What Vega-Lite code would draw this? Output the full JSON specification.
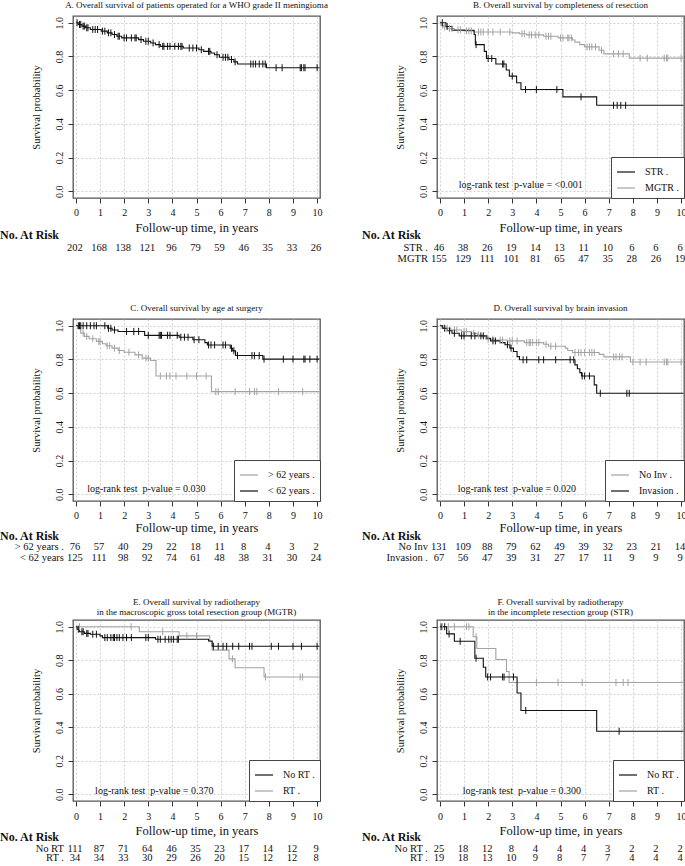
{
 "$schema": "https://vega.github.io/schema/vega-lite/v6.json",
 "padding": 0,
 "background": "white",
 "config": {
  "font": "Liberation Serif",
  "view": {"stroke": "#555", "strokeWidth": 1.3},
  "axis": {"domain": false, "grid": true, "gridColor": "#c4c4c4", "gridDash": [2, 2], "gridWidth": 0.8, "tickColor": "#333", "tickSize": 5, "tickCount": 20, "labelFont": "Liberation Serif", "labelFontSize": 10, "labelColor": "#111", "labelFlush": false, "labelOverlap": false, "titleFont": "Liberation Serif", "titleFontWeight": "normal", "titleColor": "#111"},
  "axisX": {"labelPadding": 4, "titleFontSize": 12.5, "titlePadding": 4, "labelAngle": 0, "format": "d"},
  "axisY": {"labelAngle": -90, "labelAlign": "center", "labelBaseline": "bottom", "labelPadding": 4, "titleFontSize": 10.5, "titlePadding": 13},
  "title": {"font": "Liberation Serif", "fontWeight": "normal", "fontSize": 9, "color": "#111"},
  "text": {"font": "Liberation Serif", "color": "#111"}
 },
 "datasets": {
  "km": [
   {"p":"A","g":"all","t":0,"s":1,"c":0},{"p":"A","g":"all","t":0.1,"s":0.99,"c":0},{"p":"A","g":"all","t":0.25,"s":0.98,"c":0},{"p":"A","g":"all","t":0.4,"s":0.97,"c":0},{"p":"A","g":"all","t":0.6,"s":0.96,"c":0},{"p":"A","g":"all","t":1.05,"s":0.95,"c":0},{"p":"A","g":"all","t":1.3,"s":0.94,"c":0},{"p":"A","g":"all","t":1.5,"s":0.93,"c":0},{"p":"A","g":"all","t":1.7,"s":0.92,"c":0},{"p":"A","g":"all","t":1.9,"s":0.91,"c":0},{"p":"A","g":"all","t":2.6,"s":0.9,"c":0},{"p":"A","g":"all","t":2.8,"s":0.89,"c":0},{"p":"A","g":"all","t":3.1,"s":0.88,"c":0},{"p":"A","g":"all","t":3.3,"s":0.87,"c":0},{"p":"A","g":"all","t":3.5,"s":0.86,"c":0},{"p":"A","g":"all","t":4.45,"s":0.85,"c":0},{"p":"A","g":"all","t":5.1,"s":0.84,"c":0},{"p":"A","g":"all","t":5.3,"s":0.83,"c":0},{"p":"A","g":"all","t":5.6,"s":0.82,"c":0},{"p":"A","g":"all","t":5.75,"s":0.81,"c":0},{"p":"A","g":"all","t":5.95,"s":0.795,"c":0},{"p":"A","g":"all","t":6.35,"s":0.782,"c":0},{"p":"A","g":"all","t":6.55,"s":0.768,"c":0},{"p":"A","g":"all","t":6.7,"s":0.755,"c":0},{"p":"A","g":"all","t":7.9,"s":0.733,"c":0},{"p":"A","g":"all","t":10.1,"s":0.733,"c":0},
   {"p":"A","g":"all","t":0.05,"s":1,"c":1},{"p":"A","g":"all","t":0.15,"s":0.99,"c":1},{"p":"A","g":"all","t":0.2,"s":0.99,"c":1},{"p":"A","g":"all","t":0.3,"s":0.98,"c":1},{"p":"A","g":"all","t":0.35,"s":0.98,"c":1},{"p":"A","g":"all","t":0.45,"s":0.97,"c":1},{"p":"A","g":"all","t":0.5,"s":0.97,"c":1},{"p":"A","g":"all","t":0.7,"s":0.96,"c":1},{"p":"A","g":"all","t":0.8,"s":0.96,"c":1},{"p":"A","g":"all","t":0.9,"s":0.96,"c":1},{"p":"A","g":"all","t":1.1,"s":0.95,"c":1},{"p":"A","g":"all","t":1.2,"s":0.95,"c":1},{"p":"A","g":"all","t":1.35,"s":0.94,"c":1},{"p":"A","g":"all","t":1.45,"s":0.94,"c":1},{"p":"A","g":"all","t":1.6,"s":0.93,"c":1},{"p":"A","g":"all","t":1.75,"s":0.92,"c":1},{"p":"A","g":"all","t":1.8,"s":0.92,"c":1},{"p":"A","g":"all","t":2.0,"s":0.91,"c":1},{"p":"A","g":"all","t":2.1,"s":0.91,"c":1},{"p":"A","g":"all","t":2.3,"s":0.91,"c":1},{"p":"A","g":"all","t":2.45,"s":0.91,"c":1},{"p":"A","g":"all","t":2.5,"s":0.91,"c":1},{"p":"A","g":"all","t":2.7,"s":0.9,"c":1},{"p":"A","g":"all","t":2.9,"s":0.89,"c":1},{"p":"A","g":"all","t":3.0,"s":0.89,"c":1},{"p":"A","g":"all","t":3.2,"s":0.88,"c":1},{"p":"A","g":"all","t":3.45,"s":0.87,"c":1},{"p":"A","g":"all","t":3.6,"s":0.86,"c":1},{"p":"A","g":"all","t":3.65,"s":0.86,"c":1},{"p":"A","g":"all","t":3.8,"s":0.86,"c":1},{"p":"A","g":"all","t":3.9,"s":0.86,"c":1},{"p":"A","g":"all","t":4.1,"s":0.86,"c":1},{"p":"A","g":"all","t":4.25,"s":0.86,"c":1},{"p":"A","g":"all","t":4.35,"s":0.86,"c":1},{"p":"A","g":"all","t":4.4,"s":0.86,"c":1},{"p":"A","g":"all","t":4.7,"s":0.85,"c":1},{"p":"A","g":"all","t":4.85,"s":0.85,"c":1},{"p":"A","g":"all","t":5.0,"s":0.85,"c":1},{"p":"A","g":"all","t":5.2,"s":0.84,"c":1},{"p":"A","g":"all","t":5.5,"s":0.83,"c":1},{"p":"A","g":"all","t":5.55,"s":0.83,"c":1},{"p":"A","g":"all","t":5.85,"s":0.81,"c":1},{"p":"A","g":"all","t":6.1,"s":0.795,"c":1},{"p":"A","g":"all","t":6.2,"s":0.795,"c":1},{"p":"A","g":"all","t":6.3,"s":0.795,"c":1},{"p":"A","g":"all","t":6.45,"s":0.782,"c":1},{"p":"A","g":"all","t":6.6,"s":0.768,"c":1},{"p":"A","g":"all","t":7.25,"s":0.755,"c":1},{"p":"A","g":"all","t":7.35,"s":0.755,"c":1},{"p":"A","g":"all","t":7.45,"s":0.755,"c":1},{"p":"A","g":"all","t":7.6,"s":0.755,"c":1},{"p":"A","g":"all","t":7.75,"s":0.755,"c":1},{"p":"A","g":"all","t":7.85,"s":0.755,"c":1},{"p":"A","g":"all","t":8.3,"s":0.733,"c":1},{"p":"A","g":"all","t":8.55,"s":0.733,"c":1},{"p":"A","g":"all","t":9.3,"s":0.733,"c":1},{"p":"A","g":"all","t":9.35,"s":0.733,"c":1},{"p":"A","g":"all","t":9.45,"s":0.733,"c":1},{"p":"A","g":"all","t":9.5,"s":0.733,"c":1},{"p":"A","g":"all","t":10.0,"s":0.733,"c":1},

   {"p":"B","g":"MGTR .","t":0,"s":1,"c":0},{"p":"B","g":"MGTR .","t":0.05,"s":0.985,"c":0},{"p":"B","g":"MGTR .","t":0.15,"s":0.975,"c":0},{"p":"B","g":"MGTR .","t":0.3,"s":0.965,"c":0},{"p":"B","g":"MGTR .","t":0.6,"s":0.958,"c":0},{"p":"B","g":"MGTR .","t":1.0,"s":0.952,"c":0},{"p":"B","g":"MGTR .","t":1.4,"s":0.945,"c":0},{"p":"B","g":"MGTR .","t":3.0,"s":0.94,"c":0},{"p":"B","g":"MGTR .","t":3.3,"s":0.935,"c":0},{"p":"B","g":"MGTR .","t":3.6,"s":0.928,"c":0},{"p":"B","g":"MGTR .","t":4.3,"s":0.92,"c":0},{"p":"B","g":"MGTR .","t":4.9,"s":0.91,"c":0},{"p":"B","g":"MGTR .","t":5.5,"s":0.898,"c":0},{"p":"B","g":"MGTR .","t":5.6,"s":0.885,"c":0},{"p":"B","g":"MGTR .","t":5.8,"s":0.87,"c":0},{"p":"B","g":"MGTR .","t":6.0,"s":0.857,"c":0},{"p":"B","g":"MGTR .","t":6.6,"s":0.837,"c":0},{"p":"B","g":"MGTR .","t":6.8,"s":0.815,"c":0},{"p":"B","g":"MGTR .","t":7.85,"s":0.79,"c":0},{"p":"B","g":"MGTR .","t":10.1,"s":0.79,"c":0},
   {"p":"B","g":"MGTR .","t":0.1,"s":0.985,"c":1},{"p":"B","g":"MGTR .","t":0.2,"s":0.975,"c":1},{"p":"B","g":"MGTR .","t":0.4,"s":0.965,"c":1},{"p":"B","g":"MGTR .","t":0.5,"s":0.965,"c":1},{"p":"B","g":"MGTR .","t":0.75,"s":0.958,"c":1},{"p":"B","g":"MGTR .","t":0.85,"s":0.958,"c":1},{"p":"B","g":"MGTR .","t":1.1,"s":0.952,"c":1},{"p":"B","g":"MGTR .","t":1.2,"s":0.952,"c":1},{"p":"B","g":"MGTR .","t":1.3,"s":0.952,"c":1},{"p":"B","g":"MGTR .","t":1.6,"s":0.945,"c":1},{"p":"B","g":"MGTR .","t":1.7,"s":0.945,"c":1},{"p":"B","g":"MGTR .","t":1.8,"s":0.945,"c":1},{"p":"B","g":"MGTR .","t":2.0,"s":0.945,"c":1},{"p":"B","g":"MGTR .","t":2.2,"s":0.945,"c":1},{"p":"B","g":"MGTR .","t":2.5,"s":0.945,"c":1},{"p":"B","g":"MGTR .","t":2.9,"s":0.945,"c":1},{"p":"B","g":"MGTR .","t":3.4,"s":0.935,"c":1},{"p":"B","g":"MGTR .","t":3.5,"s":0.935,"c":1},{"p":"B","g":"MGTR .","t":3.7,"s":0.928,"c":1},{"p":"B","g":"MGTR .","t":3.8,"s":0.928,"c":1},{"p":"B","g":"MGTR .","t":3.95,"s":0.928,"c":1},{"p":"B","g":"MGTR .","t":4.1,"s":0.928,"c":1},{"p":"B","g":"MGTR .","t":4.4,"s":0.92,"c":1},{"p":"B","g":"MGTR .","t":4.5,"s":0.92,"c":1},{"p":"B","g":"MGTR .","t":4.6,"s":0.92,"c":1},{"p":"B","g":"MGTR .","t":5.0,"s":0.91,"c":1},{"p":"B","g":"MGTR .","t":5.1,"s":0.91,"c":1},{"p":"B","g":"MGTR .","t":5.3,"s":0.91,"c":1},{"p":"B","g":"MGTR .","t":5.35,"s":0.91,"c":1},{"p":"B","g":"MGTR .","t":5.45,"s":0.91,"c":1},{"p":"B","g":"MGTR .","t":6.1,"s":0.857,"c":1},{"p":"B","g":"MGTR .","t":6.2,"s":0.857,"c":1},{"p":"B","g":"MGTR .","t":6.3,"s":0.857,"c":1},{"p":"B","g":"MGTR .","t":6.45,"s":0.857,"c":1},{"p":"B","g":"MGTR .","t":6.7,"s":0.837,"c":1},{"p":"B","g":"MGTR .","t":7.2,"s":0.815,"c":1},{"p":"B","g":"MGTR .","t":7.4,"s":0.815,"c":1},{"p":"B","g":"MGTR .","t":7.6,"s":0.815,"c":1},{"p":"B","g":"MGTR .","t":8.3,"s":0.79,"c":1},{"p":"B","g":"MGTR .","t":8.6,"s":0.79,"c":1},{"p":"B","g":"MGTR .","t":9.3,"s":0.79,"c":1},{"p":"B","g":"MGTR .","t":9.4,"s":0.79,"c":1},{"p":"B","g":"MGTR .","t":9.45,"s":0.79,"c":1},{"p":"B","g":"MGTR .","t":10.0,"s":0.79,"c":1},
   {"p":"B","g":"STR .","t":0,"s":1,"c":0},{"p":"B","g":"STR .","t":0.25,"s":0.978,"c":0},{"p":"B","g":"STR .","t":0.5,"s":0.955,"c":0},{"p":"B","g":"STR .","t":1.42,"s":0.93,"c":0},{"p":"B","g":"STR .","t":1.47,"s":0.87,"c":0},{"p":"B","g":"STR .","t":1.84,"s":0.83,"c":0},{"p":"B","g":"STR .","t":1.93,"s":0.788,"c":0},{"p":"B","g":"STR .","t":2.32,"s":0.755,"c":0},{"p":"B","g":"STR .","t":2.75,"s":0.72,"c":0},{"p":"B","g":"STR .","t":2.88,"s":0.683,"c":0},{"p":"B","g":"STR .","t":3.18,"s":0.644,"c":0},{"p":"B","g":"STR .","t":3.36,"s":0.604,"c":0},{"p":"B","g":"STR .","t":5.1,"s":0.56,"c":0},{"p":"B","g":"STR .","t":6.5,"s":0.51,"c":0},{"p":"B","g":"STR .","t":10.1,"s":0.51,"c":0},
   {"p":"B","g":"STR .","t":0.1,"s":1,"c":1},{"p":"B","g":"STR .","t":0.3,"s":0.978,"c":1},{"p":"B","g":"STR .","t":1.5,"s":0.87,"c":1},{"p":"B","g":"STR .","t":2.0,"s":0.788,"c":1},{"p":"B","g":"STR .","t":2.15,"s":0.788,"c":1},{"p":"B","g":"STR .","t":2.6,"s":0.755,"c":1},{"p":"B","g":"STR .","t":2.65,"s":0.755,"c":1},{"p":"B","g":"STR .","t":3.0,"s":0.683,"c":1},{"p":"B","g":"STR .","t":3.55,"s":0.604,"c":1},{"p":"B","g":"STR .","t":4.0,"s":0.604,"c":1},{"p":"B","g":"STR .","t":4.85,"s":0.604,"c":1},{"p":"B","g":"STR .","t":5.85,"s":0.56,"c":1},{"p":"B","g":"STR .","t":7.2,"s":0.51,"c":1},{"p":"B","g":"STR .","t":7.35,"s":0.51,"c":1},{"p":"B","g":"STR .","t":7.5,"s":0.51,"c":1},{"p":"B","g":"STR .","t":7.7,"s":0.51,"c":1},

   {"p":"C","g":"> 62 years .","t":0,"s":1,"c":0},{"p":"C","g":"> 62 years .","t":0.08,"s":0.986,"c":0},{"p":"C","g":"> 62 years .","t":0.2,"s":0.956,"c":0},{"p":"C","g":"> 62 years .","t":0.35,"s":0.937,"c":0},{"p":"C","g":"> 62 years .","t":0.55,"s":0.923,"c":0},{"p":"C","g":"> 62 years .","t":0.85,"s":0.907,"c":0},{"p":"C","g":"> 62 years .","t":1.1,"s":0.893,"c":0},{"p":"C","g":"> 62 years .","t":1.25,"s":0.881,"c":0},{"p":"C","g":"> 62 years .","t":1.5,"s":0.867,"c":0},{"p":"C","g":"> 62 years .","t":1.75,"s":0.853,"c":0},{"p":"C","g":"> 62 years .","t":2.0,"s":0.843,"c":0},{"p":"C","g":"> 62 years .","t":2.45,"s":0.827,"c":0},{"p":"C","g":"> 62 years .","t":2.75,"s":0.808,"c":0},{"p":"C","g":"> 62 years .","t":3.1,"s":0.794,"c":0},{"p":"C","g":"> 62 years .","t":3.32,"s":0.702,"c":0},{"p":"C","g":"> 62 years .","t":5.62,"s":0.609,"c":0},{"p":"C","g":"> 62 years .","t":10.1,"s":0.609,"c":0},
   {"p":"C","g":"> 62 years .","t":0.3,"s":0.956,"c":1},{"p":"C","g":"> 62 years .","t":0.45,"s":0.937,"c":1},{"p":"C","g":"> 62 years .","t":0.7,"s":0.923,"c":1},{"p":"C","g":"> 62 years .","t":0.95,"s":0.907,"c":1},{"p":"C","g":"> 62 years .","t":1.0,"s":0.907,"c":1},{"p":"C","g":"> 62 years .","t":1.3,"s":0.881,"c":1},{"p":"C","g":"> 62 years .","t":1.4,"s":0.881,"c":1},{"p":"C","g":"> 62 years .","t":1.6,"s":0.867,"c":1},{"p":"C","g":"> 62 years .","t":1.8,"s":0.853,"c":1},{"p":"C","g":"> 62 years .","t":2.2,"s":0.843,"c":1},{"p":"C","g":"> 62 years .","t":2.6,"s":0.827,"c":1},{"p":"C","g":"> 62 years .","t":2.9,"s":0.808,"c":1},{"p":"C","g":"> 62 years .","t":3.0,"s":0.808,"c":1},{"p":"C","g":"> 62 years .","t":3.5,"s":0.702,"c":1},{"p":"C","g":"> 62 years .","t":3.75,"s":0.702,"c":1},{"p":"C","g":"> 62 years .","t":3.9,"s":0.702,"c":1},{"p":"C","g":"> 62 years .","t":4.15,"s":0.702,"c":1},{"p":"C","g":"> 62 years .","t":4.6,"s":0.702,"c":1},{"p":"C","g":"> 62 years .","t":5.0,"s":0.702,"c":1},{"p":"C","g":"> 62 years .","t":5.4,"s":0.702,"c":1},{"p":"C","g":"> 62 years .","t":5.8,"s":0.609,"c":1},{"p":"C","g":"> 62 years .","t":5.9,"s":0.609,"c":1},{"p":"C","g":"> 62 years .","t":6.6,"s":0.609,"c":1},{"p":"C","g":"> 62 years .","t":7.2,"s":0.609,"c":1},{"p":"C","g":"> 62 years .","t":7.4,"s":0.609,"c":1},{"p":"C","g":"> 62 years .","t":7.5,"s":0.609,"c":1},{"p":"C","g":"> 62 years .","t":8.4,"s":0.609,"c":1},{"p":"C","g":"> 62 years .","t":9.4,"s":0.609,"c":1},
   {"p":"C","g":"< 62 years .","t":0,"s":1,"c":0},{"p":"C","g":"< 62 years .","t":1.32,"s":0.985,"c":0},{"p":"C","g":"< 62 years .","t":1.5,"s":0.975,"c":0},{"p":"C","g":"< 62 years .","t":1.75,"s":0.966,"c":0},{"p":"C","g":"< 62 years .","t":2.85,"s":0.943,"c":0},{"p":"C","g":"< 62 years .","t":4.28,"s":0.932,"c":0},{"p":"C","g":"< 62 years .","t":4.85,"s":0.917,"c":0},{"p":"C","g":"< 62 years .","t":5.35,"s":0.9,"c":0},{"p":"C","g":"< 62 years .","t":5.45,"s":0.886,"c":0},{"p":"C","g":"< 62 years .","t":6.4,"s":0.866,"c":0},{"p":"C","g":"< 62 years .","t":6.5,"s":0.851,"c":0},{"p":"C","g":"< 62 years .","t":6.62,"s":0.823,"c":0},{"p":"C","g":"< 62 years .","t":7.75,"s":0.802,"c":0},{"p":"C","g":"< 62 years .","t":10.1,"s":0.802,"c":0},
   {"p":"C","g":"< 62 years .","t":0.1,"s":1,"c":1},{"p":"C","g":"< 62 years .","t":0.15,"s":1,"c":1},{"p":"C","g":"< 62 years .","t":0.2,"s":1,"c":1},{"p":"C","g":"< 62 years .","t":0.3,"s":1,"c":1},{"p":"C","g":"< 62 years .","t":0.45,"s":1,"c":1},{"p":"C","g":"< 62 years .","t":0.6,"s":1,"c":1},{"p":"C","g":"< 62 years .","t":0.75,"s":1,"c":1},{"p":"C","g":"< 62 years .","t":0.85,"s":1,"c":1},{"p":"C","g":"< 62 years .","t":1.2,"s":1,"c":1},{"p":"C","g":"< 62 years .","t":1.35,"s":0.985,"c":1},{"p":"C","g":"< 62 years .","t":1.45,"s":0.985,"c":1},{"p":"C","g":"< 62 years .","t":1.6,"s":0.975,"c":1},{"p":"C","g":"< 62 years .","t":2.1,"s":0.966,"c":1},{"p":"C","g":"< 62 years .","t":2.4,"s":0.966,"c":1},{"p":"C","g":"< 62 years .","t":2.6,"s":0.966,"c":1},{"p":"C","g":"< 62 years .","t":3.0,"s":0.943,"c":1},{"p":"C","g":"< 62 years .","t":3.45,"s":0.943,"c":1},{"p":"C","g":"< 62 years .","t":3.5,"s":0.943,"c":1},{"p":"C","g":"< 62 years .","t":3.55,"s":0.943,"c":1},{"p":"C","g":"< 62 years .","t":3.8,"s":0.943,"c":1},{"p":"C","g":"< 62 years .","t":3.9,"s":0.943,"c":1},{"p":"C","g":"< 62 years .","t":4.2,"s":0.943,"c":1},{"p":"C","g":"< 62 years .","t":4.35,"s":0.932,"c":1},{"p":"C","g":"< 62 years .","t":4.5,"s":0.932,"c":1},{"p":"C","g":"< 62 years .","t":4.65,"s":0.932,"c":1},{"p":"C","g":"< 62 years .","t":4.9,"s":0.917,"c":1},{"p":"C","g":"< 62 years .","t":5.1,"s":0.917,"c":1},{"p":"C","g":"< 62 years .","t":5.5,"s":0.886,"c":1},{"p":"C","g":"< 62 years .","t":5.6,"s":0.886,"c":1},{"p":"C","g":"< 62 years .","t":5.75,"s":0.886,"c":1},{"p":"C","g":"< 62 years .","t":6.1,"s":0.886,"c":1},{"p":"C","g":"< 62 years .","t":6.2,"s":0.886,"c":1},{"p":"C","g":"< 62 years .","t":6.45,"s":0.866,"c":1},{"p":"C","g":"< 62 years .","t":6.55,"s":0.851,"c":1},{"p":"C","g":"< 62 years .","t":6.7,"s":0.823,"c":1},{"p":"C","g":"< 62 years .","t":7.3,"s":0.823,"c":1},{"p":"C","g":"< 62 years .","t":7.4,"s":0.823,"c":1},{"p":"C","g":"< 62 years .","t":7.6,"s":0.823,"c":1},{"p":"C","g":"< 62 years .","t":7.8,"s":0.802,"c":1},{"p":"C","g":"< 62 years .","t":8.6,"s":0.802,"c":1},{"p":"C","g":"< 62 years .","t":9.0,"s":0.802,"c":1},{"p":"C","g":"< 62 years .","t":9.45,"s":0.802,"c":1},{"p":"C","g":"< 62 years .","t":9.5,"s":0.802,"c":1},{"p":"C","g":"< 62 years .","t":9.7,"s":0.802,"c":1},{"p":"C","g":"< 62 years .","t":10.0,"s":0.802,"c":1},

   {"p":"D","g":"No Inv .","t":0,"s":1,"c":0},{"p":"D","g":"No Inv .","t":0.15,"s":0.985,"c":0},{"p":"D","g":"No Inv .","t":0.45,"s":0.975,"c":0},{"p":"D","g":"No Inv .","t":0.9,"s":0.965,"c":0},{"p":"D","g":"No Inv .","t":1.3,"s":0.955,"c":0},{"p":"D","g":"No Inv .","t":1.55,"s":0.945,"c":0},{"p":"D","g":"No Inv .","t":1.75,"s":0.935,"c":0},{"p":"D","g":"No Inv .","t":1.9,"s":0.92,"c":0},{"p":"D","g":"No Inv .","t":2.3,"s":0.915,"c":0},{"p":"D","g":"No Inv .","t":2.8,"s":0.91,"c":0},{"p":"D","g":"No Inv .","t":3.5,"s":0.9,"c":0},{"p":"D","g":"No Inv .","t":4.3,"s":0.89,"c":0},{"p":"D","g":"No Inv .","t":4.5,"s":0.878,"c":0},{"p":"D","g":"No Inv .","t":5.2,"s":0.867,"c":0},{"p":"D","g":"No Inv .","t":5.3,"s":0.853,"c":0},{"p":"D","g":"No Inv .","t":5.5,"s":0.841,"c":0},{"p":"D","g":"No Inv .","t":6.6,"s":0.83,"c":0},{"p":"D","g":"No Inv .","t":6.8,"s":0.815,"c":0},{"p":"D","g":"No Inv .","t":7.9,"s":0.785,"c":0},{"p":"D","g":"No Inv .","t":10.1,"s":0.785,"c":0},
   {"p":"D","g":"No Inv .","t":0.3,"s":0.985,"c":1},{"p":"D","g":"No Inv .","t":0.6,"s":0.975,"c":1},{"p":"D","g":"No Inv .","t":0.7,"s":0.975,"c":1},{"p":"D","g":"No Inv .","t":1.0,"s":0.965,"c":1},{"p":"D","g":"No Inv .","t":1.1,"s":0.965,"c":1},{"p":"D","g":"No Inv .","t":1.4,"s":0.955,"c":1},{"p":"D","g":"No Inv .","t":1.6,"s":0.945,"c":1},{"p":"D","g":"No Inv .","t":2.0,"s":0.92,"c":1},{"p":"D","g":"No Inv .","t":2.2,"s":0.92,"c":1},{"p":"D","g":"No Inv .","t":2.5,"s":0.915,"c":1},{"p":"D","g":"No Inv .","t":2.6,"s":0.915,"c":1},{"p":"D","g":"No Inv .","t":2.9,"s":0.91,"c":1},{"p":"D","g":"No Inv .","t":3.0,"s":0.91,"c":1},{"p":"D","g":"No Inv .","t":3.2,"s":0.91,"c":1},{"p":"D","g":"No Inv .","t":3.6,"s":0.9,"c":1},{"p":"D","g":"No Inv .","t":3.7,"s":0.9,"c":1},{"p":"D","g":"No Inv .","t":3.75,"s":0.9,"c":1},{"p":"D","g":"No Inv .","t":3.85,"s":0.9,"c":1},{"p":"D","g":"No Inv .","t":4.0,"s":0.9,"c":1},{"p":"D","g":"No Inv .","t":4.1,"s":0.9,"c":1},{"p":"D","g":"No Inv .","t":4.4,"s":0.89,"c":1},{"p":"D","g":"No Inv .","t":4.6,"s":0.878,"c":1},{"p":"D","g":"No Inv .","t":4.8,"s":0.878,"c":1},{"p":"D","g":"No Inv .","t":5.6,"s":0.841,"c":1},{"p":"D","g":"No Inv .","t":5.75,"s":0.841,"c":1},{"p":"D","g":"No Inv .","t":5.85,"s":0.841,"c":1},{"p":"D","g":"No Inv .","t":6.0,"s":0.841,"c":1},{"p":"D","g":"No Inv .","t":6.2,"s":0.841,"c":1},{"p":"D","g":"No Inv .","t":6.3,"s":0.841,"c":1},{"p":"D","g":"No Inv .","t":6.4,"s":0.841,"c":1},{"p":"D","g":"No Inv .","t":7.2,"s":0.815,"c":1},{"p":"D","g":"No Inv .","t":7.3,"s":0.815,"c":1},{"p":"D","g":"No Inv .","t":7.45,"s":0.815,"c":1},{"p":"D","g":"No Inv .","t":7.55,"s":0.815,"c":1},{"p":"D","g":"No Inv .","t":8.0,"s":0.785,"c":1},{"p":"D","g":"No Inv .","t":8.3,"s":0.785,"c":1},{"p":"D","g":"No Inv .","t":8.55,"s":0.785,"c":1},{"p":"D","g":"No Inv .","t":9.3,"s":0.785,"c":1},{"p":"D","g":"No Inv .","t":9.4,"s":0.785,"c":1},{"p":"D","g":"No Inv .","t":9.45,"s":0.785,"c":1},{"p":"D","g":"No Inv .","t":10.0,"s":0.785,"c":1},
   {"p":"D","g":"Invasion .","t":0,"s":1,"c":0},{"p":"D","g":"Invasion .","t":0.1,"s":0.985,"c":0},{"p":"D","g":"Invasion .","t":0.3,"s":0.97,"c":0},{"p":"D","g":"Invasion .","t":0.5,"s":0.955,"c":0},{"p":"D","g":"Invasion .","t":0.8,"s":0.94,"c":0},{"p":"D","g":"Invasion .","t":1.95,"s":0.925,"c":0},{"p":"D","g":"Invasion .","t":2.1,"s":0.91,"c":0},{"p":"D","g":"Invasion .","t":2.5,"s":0.9,"c":0},{"p":"D","g":"Invasion .","t":2.7,"s":0.887,"c":0},{"p":"D","g":"Invasion .","t":2.9,"s":0.867,"c":0},{"p":"D","g":"Invasion .","t":3.05,"s":0.847,"c":0},{"p":"D","g":"Invasion .","t":3.2,"s":0.817,"c":0},{"p":"D","g":"Invasion .","t":3.3,"s":0.798,"c":0},{"p":"D","g":"Invasion .","t":5.6,"s":0.768,"c":0},{"p":"D","g":"Invasion .","t":5.7,"s":0.745,"c":0},{"p":"D","g":"Invasion .","t":5.8,"s":0.722,"c":0},{"p":"D","g":"Invasion .","t":5.87,"s":0.702,"c":0},{"p":"D","g":"Invasion .","t":6.4,"s":0.649,"c":0},{"p":"D","g":"Invasion .","t":6.5,"s":0.599,"c":0},{"p":"D","g":"Invasion .","t":10.1,"s":0.599,"c":0},
   {"p":"D","g":"Invasion .","t":0.2,"s":0.985,"c":1},{"p":"D","g":"Invasion .","t":0.4,"s":0.97,"c":1},{"p":"D","g":"Invasion .","t":0.6,"s":0.955,"c":1},{"p":"D","g":"Invasion .","t":0.9,"s":0.94,"c":1},{"p":"D","g":"Invasion .","t":1.0,"s":0.94,"c":1},{"p":"D","g":"Invasion .","t":1.3,"s":0.94,"c":1},{"p":"D","g":"Invasion .","t":1.45,"s":0.94,"c":1},{"p":"D","g":"Invasion .","t":1.7,"s":0.94,"c":1},{"p":"D","g":"Invasion .","t":1.8,"s":0.94,"c":1},{"p":"D","g":"Invasion .","t":2.2,"s":0.91,"c":1},{"p":"D","g":"Invasion .","t":2.3,"s":0.91,"c":1},{"p":"D","g":"Invasion .","t":2.8,"s":0.887,"c":1},{"p":"D","g":"Invasion .","t":2.95,"s":0.867,"c":1},{"p":"D","g":"Invasion .","t":3.45,"s":0.798,"c":1},{"p":"D","g":"Invasion .","t":3.6,"s":0.798,"c":1},{"p":"D","g":"Invasion .","t":4.1,"s":0.798,"c":1},{"p":"D","g":"Invasion .","t":4.3,"s":0.798,"c":1},{"p":"D","g":"Invasion .","t":4.8,"s":0.798,"c":1},{"p":"D","g":"Invasion .","t":5.4,"s":0.798,"c":1},{"p":"D","g":"Invasion .","t":5.55,"s":0.798,"c":1},{"p":"D","g":"Invasion .","t":5.9,"s":0.702,"c":1},{"p":"D","g":"Invasion .","t":6.0,"s":0.702,"c":1},{"p":"D","g":"Invasion .","t":6.2,"s":0.702,"c":1},{"p":"D","g":"Invasion .","t":6.65,"s":0.599,"c":1},{"p":"D","g":"Invasion .","t":7.75,"s":0.599,"c":1},{"p":"D","g":"Invasion .","t":7.85,"s":0.599,"c":1},

   {"p":"E","g":"RT .","t":0,"s":1,"c":0},{"p":"E","g":"RT .","t":2.63,"s":0.97,"c":0},{"p":"E","g":"RT .","t":4.28,"s":0.945,"c":0},{"p":"E","g":"RT .","t":5.55,"s":0.91,"c":0},{"p":"E","g":"RT .","t":5.65,"s":0.86,"c":0},{"p":"E","g":"RT .","t":6.35,"s":0.808,"c":0},{"p":"E","g":"RT .","t":6.6,"s":0.755,"c":0},{"p":"E","g":"RT .","t":7.8,"s":0.7,"c":0},{"p":"E","g":"RT .","t":10.1,"s":0.7,"c":0},
   {"p":"E","g":"RT .","t":0.15,"s":1,"c":1},{"p":"E","g":"RT .","t":2.29,"s":1,"c":1},{"p":"E","g":"RT .","t":3.6,"s":0.97,"c":1},{"p":"E","g":"RT .","t":4.6,"s":0.945,"c":1},{"p":"E","g":"RT .","t":5.0,"s":0.945,"c":1},{"p":"E","g":"RT .","t":6.49,"s":0.808,"c":1},{"p":"E","g":"RT .","t":7.86,"s":0.7,"c":1},{"p":"E","g":"RT .","t":9.3,"s":0.7,"c":1},{"p":"E","g":"RT .","t":9.4,"s":0.7,"c":1},
   {"p":"E","g":"No RT .","t":0,"s":1,"c":0},{"p":"E","g":"No RT .","t":0.05,"s":0.985,"c":0},{"p":"E","g":"No RT .","t":0.15,"s":0.97,"c":0},{"p":"E","g":"No RT .","t":0.35,"s":0.96,"c":0},{"p":"E","g":"No RT .","t":0.6,"s":0.955,"c":0},{"p":"E","g":"No RT .","t":1.0,"s":0.945,"c":0},{"p":"E","g":"No RT .","t":1.1,"s":0.935,"c":0},{"p":"E","g":"No RT .","t":3.3,"s":0.925,"c":0},{"p":"E","g":"No RT .","t":5.5,"s":0.915,"c":0},{"p":"E","g":"No RT .","t":5.65,"s":0.883,"c":0},{"p":"E","g":"No RT .","t":10.1,"s":0.883,"c":0},
   {"p":"E","g":"No RT .","t":0.1,"s":0.985,"c":1},{"p":"E","g":"No RT .","t":0.25,"s":0.97,"c":1},{"p":"E","g":"No RT .","t":0.3,"s":0.97,"c":1},{"p":"E","g":"No RT .","t":0.45,"s":0.96,"c":1},{"p":"E","g":"No RT .","t":0.5,"s":0.96,"c":1},{"p":"E","g":"No RT .","t":0.7,"s":0.955,"c":1},{"p":"E","g":"No RT .","t":0.85,"s":0.955,"c":1},{"p":"E","g":"No RT .","t":1.2,"s":0.935,"c":1},{"p":"E","g":"No RT .","t":1.3,"s":0.935,"c":1},{"p":"E","g":"No RT .","t":1.45,"s":0.935,"c":1},{"p":"E","g":"No RT .","t":1.55,"s":0.935,"c":1},{"p":"E","g":"No RT .","t":1.6,"s":0.935,"c":1},{"p":"E","g":"No RT .","t":1.7,"s":0.935,"c":1},{"p":"E","g":"No RT .","t":1.8,"s":0.935,"c":1},{"p":"E","g":"No RT .","t":1.95,"s":0.935,"c":1},{"p":"E","g":"No RT .","t":2.1,"s":0.935,"c":1},{"p":"E","g":"No RT .","t":2.3,"s":0.935,"c":1},{"p":"E","g":"No RT .","t":2.9,"s":0.935,"c":1},{"p":"E","g":"No RT .","t":3.0,"s":0.935,"c":1},{"p":"E","g":"No RT .","t":3.4,"s":0.925,"c":1},{"p":"E","g":"No RT .","t":3.5,"s":0.925,"c":1},{"p":"E","g":"No RT .","t":3.7,"s":0.925,"c":1},{"p":"E","g":"No RT .","t":3.85,"s":0.925,"c":1},{"p":"E","g":"No RT .","t":3.95,"s":0.925,"c":1},{"p":"E","g":"No RT .","t":4.05,"s":0.925,"c":1},{"p":"E","g":"No RT .","t":4.2,"s":0.925,"c":1},{"p":"E","g":"No RT .","t":4.25,"s":0.925,"c":1},{"p":"E","g":"No RT .","t":5.7,"s":0.883,"c":1},{"p":"E","g":"No RT .","t":5.9,"s":0.883,"c":1},{"p":"E","g":"No RT .","t":6.1,"s":0.883,"c":1},{"p":"E","g":"No RT .","t":6.25,"s":0.883,"c":1},{"p":"E","g":"No RT .","t":6.5,"s":0.883,"c":1},{"p":"E","g":"No RT .","t":6.75,"s":0.883,"c":1},{"p":"E","g":"No RT .","t":7.2,"s":0.883,"c":1},{"p":"E","g":"No RT .","t":7.3,"s":0.883,"c":1},{"p":"E","g":"No RT .","t":8.1,"s":0.883,"c":1},{"p":"E","g":"No RT .","t":8.4,"s":0.883,"c":1},{"p":"E","g":"No RT .","t":9.0,"s":0.883,"c":1},{"p":"E","g":"No RT .","t":9.35,"s":0.883,"c":1},{"p":"E","g":"No RT .","t":10.0,"s":0.883,"c":1},

   {"p":"F","g":"RT .","t":0,"s":1,"c":0},{"p":"F","g":"RT .","t":1.38,"s":0.94,"c":0},{"p":"F","g":"RT .","t":1.53,"s":0.87,"c":0},{"p":"F","g":"RT .","t":2.32,"s":0.804,"c":0},{"p":"F","g":"RT .","t":2.76,"s":0.733,"c":0},{"p":"F","g":"RT .","t":2.87,"s":0.667,"c":0},{"p":"F","g":"RT .","t":10.1,"s":0.667,"c":0},
   {"p":"F","g":"RT .","t":0.1,"s":1,"c":1},{"p":"F","g":"RT .","t":0.35,"s":1,"c":1},{"p":"F","g":"RT .","t":0.6,"s":1,"c":1},{"p":"F","g":"RT .","t":1.1,"s":1,"c":1},{"p":"F","g":"RT .","t":1.2,"s":1,"c":1},{"p":"F","g":"RT .","t":1.5,"s":0.94,"c":1},{"p":"F","g":"RT .","t":4.0,"s":0.667,"c":1},{"p":"F","g":"RT .","t":4.9,"s":0.667,"c":1},{"p":"F","g":"RT .","t":5.9,"s":0.667,"c":1},{"p":"F","g":"RT .","t":7.3,"s":0.667,"c":1},{"p":"F","g":"RT .","t":7.6,"s":0.667,"c":1},{"p":"F","g":"RT .","t":7.8,"s":0.667,"c":1},
   {"p":"F","g":"No RT .","t":0,"s":1,"c":0},{"p":"F","g":"No RT .","t":0.28,"s":0.957,"c":0},{"p":"F","g":"No RT .","t":0.6,"s":0.913,"c":0},{"p":"F","g":"No RT .","t":1.45,"s":0.812,"c":0},{"p":"F","g":"No RT .","t":1.8,"s":0.758,"c":0},{"p":"F","g":"No RT .","t":1.9,"s":0.7,"c":0},{"p":"F","g":"No RT .","t":3.2,"s":0.604,"c":0},{"p":"F","g":"No RT .","t":3.36,"s":0.5,"c":0},{"p":"F","g":"No RT .","t":6.5,"s":0.376,"c":0},{"p":"F","g":"No RT .","t":10.1,"s":0.376,"c":0},
   {"p":"F","g":"No RT .","t":0.05,"s":1,"c":1},{"p":"F","g":"No RT .","t":0.2,"s":1,"c":1},{"p":"F","g":"No RT .","t":0.38,"s":0.957,"c":1},{"p":"F","g":"No RT .","t":0.84,"s":0.913,"c":1},{"p":"F","g":"No RT .","t":1.5,"s":0.812,"c":1},{"p":"F","g":"No RT .","t":1.98,"s":0.7,"c":1},{"p":"F","g":"No RT .","t":2.1,"s":0.7,"c":1},{"p":"F","g":"No RT .","t":2.6,"s":0.7,"c":1},{"p":"F","g":"No RT .","t":2.66,"s":0.7,"c":1},{"p":"F","g":"No RT .","t":3.05,"s":0.7,"c":1},{"p":"F","g":"No RT .","t":3.56,"s":0.5,"c":1},{"p":"F","g":"No RT .","t":7.43,"s":0.376,"c":1}
  ],
  "risk": [
   {"p":"A","r":1,"t":0,"n":202},{"p":"A","r":1,"t":1,"n":168},{"p":"A","r":1,"t":2,"n":138},{"p":"A","r":1,"t":3,"n":121},{"p":"A","r":1,"t":4,"n":96},{"p":"A","r":1,"t":5,"n":79},{"p":"A","r":1,"t":6,"n":59},{"p":"A","r":1,"t":7,"n":46},{"p":"A","r":1,"t":8,"n":35},{"p":"A","r":1,"t":9,"n":33},{"p":"A","r":1,"t":10,"n":26},
   {"p":"B","r":1,"t":0,"n":46},{"p":"B","r":1,"t":1,"n":38},{"p":"B","r":1,"t":2,"n":26},{"p":"B","r":1,"t":3,"n":19},{"p":"B","r":1,"t":4,"n":14},{"p":"B","r":1,"t":5,"n":13},{"p":"B","r":1,"t":6,"n":11},{"p":"B","r":1,"t":7,"n":10},{"p":"B","r":1,"t":8,"n":6},{"p":"B","r":1,"t":9,"n":6},{"p":"B","r":1,"t":10,"n":6},
   {"p":"B","r":2,"t":0,"n":155},{"p":"B","r":2,"t":1,"n":129},{"p":"B","r":2,"t":2,"n":111},{"p":"B","r":2,"t":3,"n":101},{"p":"B","r":2,"t":4,"n":81},{"p":"B","r":2,"t":5,"n":65},{"p":"B","r":2,"t":6,"n":47},{"p":"B","r":2,"t":7,"n":35},{"p":"B","r":2,"t":8,"n":28},{"p":"B","r":2,"t":9,"n":26},{"p":"B","r":2,"t":10,"n":19},
   {"p":"C","r":1,"t":0,"n":76},{"p":"C","r":1,"t":1,"n":57},{"p":"C","r":1,"t":2,"n":40},{"p":"C","r":1,"t":3,"n":29},{"p":"C","r":1,"t":4,"n":22},{"p":"C","r":1,"t":5,"n":18},{"p":"C","r":1,"t":6,"n":11},{"p":"C","r":1,"t":7,"n":8},{"p":"C","r":1,"t":8,"n":4},{"p":"C","r":1,"t":9,"n":3},{"p":"C","r":1,"t":10,"n":2},
   {"p":"C","r":2,"t":0,"n":125},{"p":"C","r":2,"t":1,"n":111},{"p":"C","r":2,"t":2,"n":98},{"p":"C","r":2,"t":3,"n":92},{"p":"C","r":2,"t":4,"n":74},{"p":"C","r":2,"t":5,"n":61},{"p":"C","r":2,"t":6,"n":48},{"p":"C","r":2,"t":7,"n":38},{"p":"C","r":2,"t":8,"n":31},{"p":"C","r":2,"t":9,"n":30},{"p":"C","r":2,"t":10,"n":24},
   {"p":"D","r":1,"t":0,"n":131},{"p":"D","r":1,"t":1,"n":109},{"p":"D","r":1,"t":2,"n":88},{"p":"D","r":1,"t":3,"n":79},{"p":"D","r":1,"t":4,"n":62},{"p":"D","r":1,"t":5,"n":49},{"p":"D","r":1,"t":6,"n":39},{"p":"D","r":1,"t":7,"n":32},{"p":"D","r":1,"t":8,"n":23},{"p":"D","r":1,"t":9,"n":21},{"p":"D","r":1,"t":10,"n":14},
   {"p":"D","r":2,"t":0,"n":67},{"p":"D","r":2,"t":1,"n":56},{"p":"D","r":2,"t":2,"n":47},{"p":"D","r":2,"t":3,"n":39},{"p":"D","r":2,"t":4,"n":31},{"p":"D","r":2,"t":5,"n":27},{"p":"D","r":2,"t":6,"n":17},{"p":"D","r":2,"t":7,"n":11},{"p":"D","r":2,"t":8,"n":9},{"p":"D","r":2,"t":9,"n":9},{"p":"D","r":2,"t":10,"n":9},
   {"p":"E","r":1,"t":0,"n":111},{"p":"E","r":1,"t":1,"n":87},{"p":"E","r":1,"t":2,"n":71},{"p":"E","r":1,"t":3,"n":64},{"p":"E","r":1,"t":4,"n":46},{"p":"E","r":1,"t":5,"n":35},{"p":"E","r":1,"t":6,"n":23},{"p":"E","r":1,"t":7,"n":17},{"p":"E","r":1,"t":8,"n":14},{"p":"E","r":1,"t":9,"n":12},{"p":"E","r":1,"t":10,"n":9},
   {"p":"E","r":2,"t":0,"n":34},{"p":"E","r":2,"t":1,"n":34},{"p":"E","r":2,"t":2,"n":33},{"p":"E","r":2,"t":3,"n":30},{"p":"E","r":2,"t":4,"n":29},{"p":"E","r":2,"t":5,"n":26},{"p":"E","r":2,"t":6,"n":20},{"p":"E","r":2,"t":7,"n":15},{"p":"E","r":2,"t":8,"n":12},{"p":"E","r":2,"t":9,"n":12},{"p":"E","r":2,"t":10,"n":8},
   {"p":"F","r":1,"t":0,"n":25},{"p":"F","r":1,"t":1,"n":18},{"p":"F","r":1,"t":2,"n":12},{"p":"F","r":1,"t":3,"n":8},{"p":"F","r":1,"t":4,"n":4},{"p":"F","r":1,"t":5,"n":4},{"p":"F","r":1,"t":6,"n":4},{"p":"F","r":1,"t":7,"n":3},{"p":"F","r":1,"t":8,"n":2},{"p":"F","r":1,"t":9,"n":2},{"p":"F","r":1,"t":10,"n":2},
   {"p":"F","r":2,"t":0,"n":19},{"p":"F","r":2,"t":1,"n":18},{"p":"F","r":2,"t":2,"n":13},{"p":"F","r":2,"t":3,"n":10},{"p":"F","r":2,"t":4,"n":9},{"p":"F","r":2,"t":5,"n":8},{"p":"F","r":2,"t":6,"n":7},{"p":"F","r":2,"t":7,"n":7},{"p":"F","r":2,"t":8,"n":4},{"p":"F","r":2,"t":9,"n":4},{"p":"F","r":2,"t":10,"n":4}
  ],
  "risklab": [
   {"p":"B","r":1,"lab":"STR ."},{"p":"B","r":2,"lab":"MGTR"},
   {"p":"C","r":1,"lab":"> 62 years ."},{"p":"C","r":2,"lab":"< 62 years"},
   {"p":"D","r":1,"lab":"No Inv"},{"p":"D","r":2,"lab":"Invasion ."},
   {"p":"E","r":1,"lab":"No RT"},{"p":"E","r":2,"lab":"RT ."},
   {"p":"F","r":1,"lab":"No RT ."},{"p":"F","r":2,"lab":"RT ."}
  ]
 },
 "spacing": 38,
 "resolve": {"scale": {"color": "independent"}, "legend": {"color": "independent"}},
 "vconcat": [
  {
   "spacing": 33,
   "resolve": {"scale": {"color": "independent"}, "legend": {"color": "independent"}},
   "hconcat": [
    {
     "bounds": "flush", "spacing": 45,
     "resolve": {"scale": {"color": "independent"}, "legend": {"color": "independent"}},
     "vconcat": [
      {
       "width": 247, "height": 182,
       "title": {"text": "A. Overall survival of patients operated for a WHO grade II meningioma", "offset": 6},
       "layer": [
        {"data": {"name": "km"}, "transform": [{"filter": "datum.p == 'A' && datum.c == 0"}],
         "mark": {"type": "line", "interpolate": "step-after", "strokeWidth": 1.1},
         "encoding": {
          "x": {"field": "t", "type": "quantitative", "scale": {"domain": [-0.12, 10.12], "nice": false, "zero": false}, "axis": {"values": [0,1,2,3,4,5,6,7,8,9,10], "tickCount": 20, "format": "d", "labelOverlap": false, "title": "Follow-up time, in years"}},
          "y": {"field": "s", "type": "quantitative", "scale": {"domain": [-0.04, 1.04], "nice": false, "zero": false}, "axis": {"values": [0,0.2,0.4,0.6,0.8,1], "tickCount": 20, "labelOverlap": false, "format": ".1f", "title": "Survival probability"}},
          "color": {"field": "g", "type": "nominal", "scale": {"domain": ["all"], "range": ["#111111"]}, "legend": null}}},
        {"data": {"name": "km"}, "transform": [{"filter": "datum.p == 'A' && datum.c == 1"}],
         "mark": {"type": "point", "shape": "M0,-1L0,1", "size": 49, "filled": false, "strokeWidth": 1, "opacity": 1},
         "encoding": {"x": {"field": "t", "type": "quantitative"}, "y": {"field": "s", "type": "quantitative"}, "color": {"field": "g", "type": "nominal"}}}
       ]
      },
      {
       "width": 247, "height": 21,
       "view": {"stroke": null},
       "title": {"text": "No. At Risk", "anchor": "start", "frame": "group", "dx": -73, "fontSize": 12, "fontWeight": "bold", "offset": 1},
       "layer": [
        {"data": {"name": "risk"}, "transform": [{"filter": "datum.p == 'A'"}],
         "mark": {"type": "text", "fontSize": 10.5, "dx": -1},
         "encoding": {
          "x": {"field": "t", "type": "quantitative", "scale": {"domain": [-0.12, 10.12], "nice": false, "zero": false}, "axis": null},
          "y": {"field": "r", "type": "ordinal", "scale": {"type": "point", "domain": [1, 2], "padding": 0.5}, "axis": null},
          "text": {"field": "n"}}}
       ]
      }
     ]
    },
    {
     "bounds": "flush", "spacing": 45,
     "resolve": {"scale": {"color": "independent"}, "legend": {"color": "independent"}},
     "vconcat": [
      {
       "width": 247, "height": 182,
       "title": {"text": "B. Overall survival by completeness of resection", "offset": 6},
       "layer": [
        {"data": {"name": "km"}, "transform": [{"filter": "datum.p == 'B' && datum.c == 0"}],
         "mark": {"type": "line", "interpolate": "step-after", "strokeWidth": 1.1},
         "encoding": {
          "x": {"field": "t", "type": "quantitative", "scale": {"domain": [-0.12, 10.12], "nice": false, "zero": false}, "axis": {"values": [0,1,2,3,4,5,6,7,8,9,10], "tickCount": 20, "format": "d", "labelOverlap": false, "title": "Follow-up time, in years"}},
          "y": {"field": "s", "type": "quantitative", "scale": {"domain": [-0.04, 1.04], "nice": false, "zero": false}, "axis": {"values": [0,0.2,0.4,0.6,0.8,1], "tickCount": 20, "labelOverlap": false, "format": ".1f", "title": "Survival probability"}},
          "color": {"field": "g", "type": "nominal", "scale": {"domain": ["STR .", "MGTR ."], "range": ["#111111", "#a3a3a3"]},
           "legend": {"title": null, "orient": "bottom-right", "offset": 0, "symbolType": "stroke", "symbolSize": 324, "symbolStrokeWidth": 1.2, "strokeColor": "#444", "fillColor": "white", "padding": 5, "labelFontSize": 10, "labelFont": "Liberation Serif", "labelColor": "#111", "rowPadding": 1, "labelOffset": 9, "cornerRadius": 0}}}},
        {"data": {"name": "km"}, "transform": [{"filter": "datum.p == 'B' && datum.c == 1"}],
         "mark": {"type": "point", "shape": "M0,-1L0,1", "size": 49, "filled": false, "strokeWidth": 1, "opacity": 1},
         "encoding": {"x": {"field": "t", "type": "quantitative"}, "y": {"field": "s", "type": "quantitative"}, "color": {"field": "g", "type": "nominal"}}},
        {"data": {"values": [{}]}, "mark": {"type": "text", "fontSize": 10},
         "encoding": {"x": {"datum": 3.35}, "y": {"datum": 0.04}, "text": {"value": "log-rank test\u00a0 p-value = <0.001"}}}
       ]
      },
      {
       "width": 247, "height": 21,
       "view": {"stroke": null},
       "title": {"text": "No. At Risk", "anchor": "start", "frame": "group", "dx": -75, "fontSize": 12, "fontWeight": "bold", "offset": 1},
       "layer": [
        {"data": {"name": "risk"}, "transform": [{"filter": "datum.p == 'B'"}],
         "mark": {"type": "text", "fontSize": 10.5, "dx": -1},
         "encoding": {
          "x": {"field": "t", "type": "quantitative", "scale": {"domain": [-0.12, 10.12], "nice": false, "zero": false}, "axis": null},
          "y": {"field": "r", "type": "ordinal", "scale": {"type": "point", "domain": [1, 2], "padding": 0.5}, "axis": null},
          "text": {"field": "n"}}},
        {"data": {"name": "risklab"}, "transform": [{"filter": "datum.p == 'B'"}],
         "mark": {"type": "text", "fontSize": 10.5, "align": "right", "dx": -12},
         "encoding": {"x": {"datum": 0}, "y": {"field": "r", "type": "ordinal"}, "text": {"field": "lab"}}}
       ]
      }
     ]
    }
   ]
  },
  {
   "spacing": 32,
   "resolve": {"scale": {"color": "independent"}, "legend": {"color": "independent"}},
   "vconcat": [
  {
   "spacing": 39,
   "resolve": {"scale": {"color": "independent"}, "legend": {"color": "independent"}},
   "hconcat": [
    {
     "bounds": "flush", "spacing": 41,
     "resolve": {"scale": {"color": "independent"}, "legend": {"color": "independent"}},
     "vconcat": [
      {
       "width": 247, "height": 182,
       "title": {"text": "C. Overall survival by age at surgery", "offset": 6},
       "layer": [
        {"data": {"name": "km"}, "transform": [{"filter": "datum.p == 'C' && datum.c == 0"}],
         "mark": {"type": "line", "interpolate": "step-after", "strokeWidth": 1.1},
         "encoding": {
          "x": {"field": "t", "type": "quantitative", "scale": {"domain": [-0.12, 10.12], "nice": false, "zero": false}, "axis": {"values": [0,1,2,3,4,5,6,7,8,9,10], "tickCount": 20, "format": "d", "labelOverlap": false, "title": "Follow-up time, in years", "titlePadding": 1}},
          "y": {"field": "s", "type": "quantitative", "scale": {"domain": [-0.04, 1.04], "nice": false, "zero": false}, "axis": {"values": [0,0.2,0.4,0.6,0.8,1], "tickCount": 20, "labelOverlap": false, "format": ".1f", "title": "Survival probability"}},
          "color": {"field": "g", "type": "nominal", "scale": {"domain": ["> 62 years .", "< 62 years ."], "range": ["#a3a3a3", "#111111"]},
           "legend": {"title": null, "orient": "bottom-right", "offset": 0, "symbolType": "stroke", "symbolSize": 324, "symbolStrokeWidth": 1.2, "strokeColor": "#444", "fillColor": "white", "padding": 5, "labelFontSize": 10, "labelFont": "Liberation Serif", "labelColor": "#111", "rowPadding": 1, "labelOffset": 9, "cornerRadius": 0}}}},
        {"data": {"name": "km"}, "transform": [{"filter": "datum.p == 'C' && datum.c == 1"}],
         "mark": {"type": "point", "shape": "M0,-1L0,1", "size": 49, "filled": false, "strokeWidth": 1, "opacity": 1},
         "encoding": {"x": {"field": "t", "type": "quantitative"}, "y": {"field": "s", "type": "quantitative"}, "color": {"field": "g", "type": "nominal"}}},
        {"data": {"values": [{}]}, "mark": {"type": "text", "fontSize": 10},
         "encoding": {"x": {"datum": 2.92}, "y": {"datum": 0.033}, "text": {"value": "log-rank test\u00a0 p-value = 0.030"}}}
       ]
      },
      {
       "width": 247, "height": 21,
       "view": {"stroke": null},
       "title": {"text": "No. At Risk", "anchor": "start", "frame": "group", "dx": -73, "fontSize": 12, "fontWeight": "bold", "offset": -1},
       "layer": [
        {"data": {"name": "risk"}, "transform": [{"filter": "datum.p == 'C'"}],
         "mark": {"type": "text", "fontSize": 10.5, "dx": -1},
         "encoding": {
          "x": {"field": "t", "type": "quantitative", "scale": {"domain": [-0.12, 10.12], "nice": false, "zero": false}, "axis": null},
          "y": {"field": "r", "type": "ordinal", "scale": {"type": "point", "domain": [1, 2], "padding": 0.5}, "axis": null},
          "text": {"field": "n"}}},
        {"data": {"name": "risklab"}, "transform": [{"filter": "datum.p == 'C'"}],
         "mark": {"type": "text", "fontSize": 10.5, "align": "right", "dx": -12},
         "encoding": {"x": {"datum": 0}, "y": {"field": "r", "type": "ordinal"}, "text": {"field": "lab"}}}
       ]
      }
     ]
    },
    {
     "bounds": "flush", "spacing": 41,
     "resolve": {"scale": {"color": "independent"}, "legend": {"color": "independent"}},
     "vconcat": [
      {
       "width": 247, "height": 182,
       "title": {"text": "D. Overall survival by brain invasion", "offset": 6},
       "layer": [
        {"data": {"name": "km"}, "transform": [{"filter": "datum.p == 'D' && datum.c == 0"}],
         "mark": {"type": "line", "interpolate": "step-after", "strokeWidth": 1.1},
         "encoding": {
          "x": {"field": "t", "type": "quantitative", "scale": {"domain": [-0.12, 10.12], "nice": false, "zero": false}, "axis": {"values": [0,1,2,3,4,5,6,7,8,9,10], "tickCount": 20, "format": "d", "labelOverlap": false, "title": "Follow-up time, in years", "titlePadding": 1}},
          "y": {"field": "s", "type": "quantitative", "scale": {"domain": [-0.04, 1.04], "nice": false, "zero": false}, "axis": {"values": [0,0.2,0.4,0.6,0.8,1], "tickCount": 20, "labelOverlap": false, "format": ".1f", "title": "Survival probability"}},
          "color": {"field": "g", "type": "nominal", "scale": {"domain": ["No Inv .", "Invasion ."], "range": ["#a3a3a3", "#111111"]},
           "legend": {"title": null, "orient": "bottom-right", "offset": 0, "symbolType": "stroke", "symbolSize": 324, "symbolStrokeWidth": 1.2, "strokeColor": "#444", "fillColor": "white", "padding": 5, "labelFontSize": 10, "labelFont": "Liberation Serif", "labelColor": "#111", "rowPadding": 1, "labelOffset": 9, "cornerRadius": 0}}}},
        {"data": {"name": "km"}, "transform": [{"filter": "datum.p == 'D' && datum.c == 1"}],
         "mark": {"type": "point", "shape": "M0,-1L0,1", "size": 49, "filled": false, "strokeWidth": 1, "opacity": 1},
         "encoding": {"x": {"field": "t", "type": "quantitative"}, "y": {"field": "s", "type": "quantitative"}, "color": {"field": "g", "type": "nominal"}}},
        {"data": {"values": [{}]}, "mark": {"type": "text", "fontSize": 10},
         "encoding": {"x": {"datum": 3.19}, "y": {"datum": 0.033}, "text": {"value": "log-rank test\u00a0 p-value = 0.020"}}}
       ]
      },
      {
       "width": 247, "height": 21,
       "view": {"stroke": null},
       "title": {"text": "No. At Risk", "anchor": "start", "frame": "group", "dx": -75, "fontSize": 12, "fontWeight": "bold", "offset": -1},
       "layer": [
        {"data": {"name": "risk"}, "transform": [{"filter": "datum.p == 'D'"}],
         "mark": {"type": "text", "fontSize": 10.5, "dx": -1},
         "encoding": {
          "x": {"field": "t", "type": "quantitative", "scale": {"domain": [-0.12, 10.12], "nice": false, "zero": false}, "axis": null},
          "y": {"field": "r", "type": "ordinal", "scale": {"type": "point", "domain": [1, 2], "padding": 0.5}, "axis": null},
          "text": {"field": "n"}}},
        {"data": {"name": "risklab"}, "transform": [{"filter": "datum.p == 'D'"}],
         "mark": {"type": "text", "fontSize": 10.5, "align": "right", "dx": -12},
         "encoding": {"x": {"datum": 0}, "y": {"field": "r", "type": "ordinal"}, "text": {"field": "lab"}}}
       ]
      }
     ]
    }
   ]
  },
  {
   "spacing": 39,
   "resolve": {"scale": {"color": "independent"}, "legend": {"color": "independent"}},
   "hconcat": [
    {
     "bounds": "flush", "spacing": 43,
     "resolve": {"scale": {"color": "independent"}, "legend": {"color": "independent"}},
     "vconcat": [
      {
       "width": 247, "height": 181,
       "title": {"text": ["E. Overall survival by radiotherapy", "in the macroscopic gross total resection group (MGTR)"], "offset": 3, "lineHeight": 10.5},
       "layer": [
        {"data": {"name": "km"}, "transform": [{"filter": "datum.p == 'E' && datum.c == 0"}],
         "mark": {"type": "line", "interpolate": "step-after", "strokeWidth": 1.1},
         "encoding": {
          "x": {"field": "t", "type": "quantitative", "scale": {"domain": [-0.12, 10.12], "nice": false, "zero": false}, "axis": {"values": [0,1,2,3,4,5,6,7,8,9,10], "tickCount": 20, "format": "d", "labelOverlap": false, "title": "Follow-up time, in years", "labelPadding": 5, "titlePadding": 3}},
          "y": {"field": "s", "type": "quantitative", "scale": {"domain": [-0.04, 1.04], "nice": false, "zero": false}, "axis": {"values": [0,0.2,0.4,0.6,0.8,1], "tickCount": 20, "labelOverlap": false, "format": ".1f", "title": "Survival probability"}},
          "color": {"field": "g", "type": "nominal", "scale": {"domain": ["No RT .", "RT ."], "range": ["#111111", "#a3a3a3"]},
           "legend": {"title": null, "orient": "bottom-right", "offset": 0, "symbolType": "stroke", "symbolSize": 324, "symbolStrokeWidth": 1.2, "strokeColor": "#444", "fillColor": "white", "padding": 5, "labelFontSize": 10, "labelFont": "Liberation Serif", "labelColor": "#111", "rowPadding": 1, "labelOffset": 9, "cornerRadius": 0}}}},
        {"data": {"name": "km"}, "transform": [{"filter": "datum.p == 'E' && datum.c == 1"}],
         "mark": {"type": "point", "shape": "M0,-1L0,1", "size": 49, "filled": false, "strokeWidth": 1, "opacity": 1},
         "encoding": {"x": {"field": "t", "type": "quantitative"}, "y": {"field": "s", "type": "quantitative"}, "color": {"field": "g", "type": "nominal"}}},
        {"data": {"values": [{}]}, "mark": {"type": "text", "fontSize": 10},
         "encoding": {"x": {"datum": 3.25}, "y": {"datum": 0.022}, "text": {"value": "log-rank test\u00a0 p-value = 0.370"}}}
       ]
      },
      {
       "width": 247, "height": 19,
       "view": {"stroke": null},
       "title": {"text": "No. At Risk", "anchor": "start", "frame": "group", "dx": -73, "fontSize": 12, "fontWeight": "bold", "offset": 0},
       "layer": [
        {"data": {"name": "risk"}, "transform": [{"filter": "datum.p == 'E'"}],
         "mark": {"type": "text", "fontSize": 10.5, "dx": -1},
         "encoding": {
          "x": {"field": "t", "type": "quantitative", "scale": {"domain": [-0.12, 10.12], "nice": false, "zero": false}, "axis": null},
          "y": {"field": "r", "type": "ordinal", "scale": {"type": "point", "domain": [1, 2], "padding": 0.5}, "axis": null},
          "text": {"field": "n"}}},
        {"data": {"name": "risklab"}, "transform": [{"filter": "datum.p == 'E'"}],
         "mark": {"type": "text", "fontSize": 10.5, "align": "right", "dx": -12},
         "encoding": {"x": {"datum": 0}, "y": {"field": "r", "type": "ordinal"}, "text": {"field": "lab"}}}
       ]
      }
     ]
    },
    {
     "bounds": "flush", "spacing": 43,
     "resolve": {"scale": {"color": "independent"}, "legend": {"color": "independent"}},
     "vconcat": [
      {
       "width": 247, "height": 181,
       "title": {"text": ["F. Overall survival by radiotherapy", "in the incomplete resection group (STR)"], "offset": 3, "lineHeight": 10.5},
       "layer": [
        {"data": {"name": "km"}, "transform": [{"filter": "datum.p == 'F' && datum.c == 0"}],
         "mark": {"type": "line", "interpolate": "step-after", "strokeWidth": 1.1},
         "encoding": {
          "x": {"field": "t", "type": "quantitative", "scale": {"domain": [-0.12, 10.12], "nice": false, "zero": false}, "axis": {"values": [0,1,2,3,4,5,6,7,8,9,10], "tickCount": 20, "format": "d", "labelOverlap": false, "title": "Follow-up time, in years", "labelPadding": 5, "titlePadding": 3}},
          "y": {"field": "s", "type": "quantitative", "scale": {"domain": [-0.04, 1.04], "nice": false, "zero": false}, "axis": {"values": [0,0.2,0.4,0.6,0.8,1], "tickCount": 20, "labelOverlap": false, "format": ".1f", "title": "Survival probability"}},
          "color": {"field": "g", "type": "nominal", "scale": {"domain": ["No RT .", "RT ."], "range": ["#111111", "#a3a3a3"]},
           "legend": {"title": null, "orient": "bottom-right", "offset": 0, "symbolType": "stroke", "symbolSize": 324, "symbolStrokeWidth": 1.2, "strokeColor": "#444", "fillColor": "white", "padding": 5, "labelFontSize": 10, "labelFont": "Liberation Serif", "labelColor": "#111", "rowPadding": 1, "labelOffset": 9, "cornerRadius": 0}}}},
        {"data": {"name": "km"}, "transform": [{"filter": "datum.p == 'F' && datum.c == 1"}],
         "mark": {"type": "point", "shape": "M0,-1L0,1", "size": 49, "filled": false, "strokeWidth": 1, "opacity": 1},
         "encoding": {"x": {"field": "t", "type": "quantitative"}, "y": {"field": "s", "type": "quantitative"}, "color": {"field": "g", "type": "nominal"}}},
        {"data": {"values": [{}]}, "mark": {"type": "text", "fontSize": 10},
         "encoding": {"x": {"datum": 3.4}, "y": {"datum": 0.022}, "text": {"value": "log-rank test\u00a0 p-value = 0.300"}}}
       ]
      },
      {
       "width": 247, "height": 19,
       "view": {"stroke": null},
       "title": {"text": "No. At Risk", "anchor": "start", "frame": "group", "dx": -75, "fontSize": 12, "fontWeight": "bold", "offset": 0},
       "layer": [
        {"data": {"name": "risk"}, "transform": [{"filter": "datum.p == 'F'"}],
         "mark": {"type": "text", "fontSize": 10.5, "dx": -1},
         "encoding": {
          "x": {"field": "t", "type": "quantitative", "scale": {"domain": [-0.12, 10.12], "nice": false, "zero": false}, "axis": null},
          "y": {"field": "r", "type": "ordinal", "scale": {"type": "point", "domain": [1, 2], "padding": 0.5}, "axis": null},
          "text": {"field": "n"}}},
        {"data": {"name": "risklab"}, "transform": [{"filter": "datum.p == 'F'"}],
         "mark": {"type": "text", "fontSize": 10.5, "align": "right", "dx": -12},
         "encoding": {"x": {"datum": 0}, "y": {"field": "r", "type": "ordinal"}, "text": {"field": "lab"}}}
       ]
      }
     ]
    }
   ]
  }
   ]
  }
 ]
}
